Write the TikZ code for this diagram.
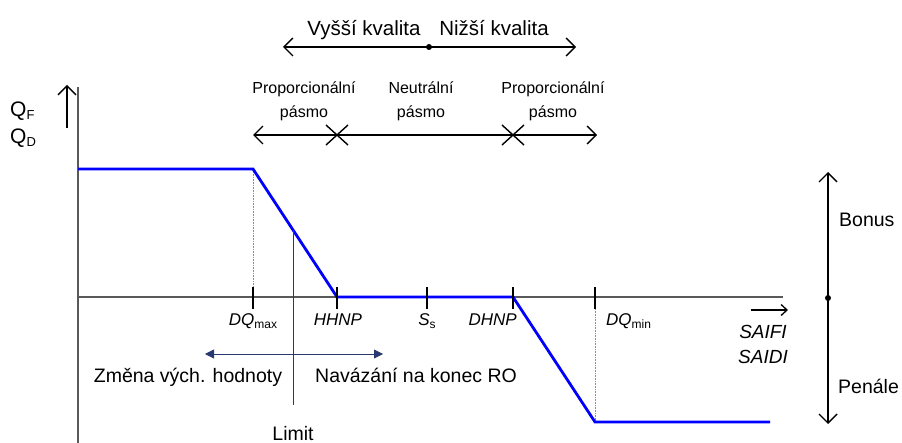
\documentclass[tikz,border=0pt]{standalone}
\usepackage{fontspec}
\setmainfont{Liberation Sans}
\usetikzlibrary{arrows.meta}

\definecolor{navy}{RGB}{40,56,112}
\newcommand{\fs}[1]{\fontsize{#1}{#1}\selectfont}
\newcommand{\lowsub}[1]{\raisebox{-3pt}{\upshape\fs{12}#1}}

\tikzset{
	axis/.style={draw=black!65,line width=1.1pt},
	curve/.style={draw=blue,line width=2.8pt,line join=miter},
	barb/.style={-{Straight Barb[length=9pt,width=18pt]},line width=1.4pt},
	smallbarb/.style={-{Straight Barb[length=6pt,width=11pt]},line width=1.3pt},
	tickmark/.style={line width=1.5pt},
	guide/.style={draw=black!45,line width=0.6pt,densely dotted},
	navyline/.style={draw=navy,line width=0.8pt},
	lbl/.style={inner sep=0pt,anchor=base,font=\fs{19.5}},
	band/.style={inner sep=0pt,anchor=base,font=\fs{16}},
	ticklbl/.style={inner sep=0pt,anchor=base,font=\fs{17}\itshape},
}

\begin{document}
\begin{tikzpicture}[x=1pt,y=-1pt]
	\useasboundingbox (0,0) rectangle (902,443);

	% axes
	\coordinate (ytop) at (78,87);
	\coordinate (ybot) at (78,443);
	\coordinate (x0) at (78,297);
	\coordinate (xend) at (783,297);
	\draw[axis] (ytop) -- (ybot);
	\draw[axis] (x0) -- (xend);

	% quality curve
	\coordinate (c1) at (78,169);
	\coordinate (c2) at (253,169);
	\coordinate (c3) at (337,297);
	\coordinate (c4) at (513,297);
	\coordinate (c5) at (595,422);
	\coordinate (c6) at (770,422);
	\draw[guide] (c2) -- (253,287);
	\draw[guide] (595,309) -- (c5);
	\draw[curve] (c1) -- (c2) -- (c3) -- (c4) -- (c5) -- (c6);

	% ticks
	\foreach \tx in {253,337,427,513,595}
		\draw[tickmark] (\tx,287) -- (\tx,309);

	\node[ticklbl] (dqmax) at (253,326) {DQ\lowsub{max}};
	\node[ticklbl] (hhnp) at (338,326) {HHNP};
	\node[ticklbl] (ss) at (427,326) {S\lowsub{s}};
	\node[ticklbl,anchor=base east] (dhnp) at (517,326) {DHNP};
	\node[ticklbl,anchor=base west] (dqmin) at (606,326) {DQ\lowsub{min}};

	% y label
	\node[lbl,anchor=base west,font=\fs{21}] (qf) at (10,117) {Q\raisebox{-3pt}{\fs{13}F}};
	\node[lbl,anchor=base west,font=\fs{21}] (qd) at (10,144) {Q\raisebox{-3pt}{\fs{13}D}};
	\coordinate (qa1) at (67,128);
	\coordinate (qa2) at (67,85);
	\draw[barb] (qa1) -- (qa2);

	% x label
	\coordinate (sa1) at (751,310);
	\coordinate (sa2) at (788,310);
	\draw[smallbarb] (sa1) -- (sa2);
	\node[ticklbl,font=\fs{19}\itshape] (saifi) at (763,339) {SAIFI};
	\node[ticklbl,font=\fs{19}\itshape] (saidi) at (763,364) {SAIDI};

	% quality arrow
	\coordinate (qmid) at (429,47);
	\coordinate (qleft) at (283,47);
	\coordinate (qright) at (576,47);
	\draw[barb] (qmid) -- (qleft);
	\draw[barb] (qmid) -- (qright);
	\fill (qmid) circle (3pt);
	\node[lbl,font=\fs{20.5}] (vyssi) at (364,36) {Vyšší kvalita};
	\node[lbl,font=\fs{20.5}] (nizsi) at (494,36) {Nižší kvalita};

	% bands
	\coordinate (b1) at (337,135);
	\coordinate (b2) at (513,135);
	\coordinate (bleft) at (253,135);
	\coordinate (bright) at (597,135);
	\draw[line width=1.4pt] (b1) -- (b2);
	\draw[barb] (b1) -- (bleft);
	\draw[barb] (b2) -- (bright);
	\foreach \bx in {337,513} {
		\draw[line width=1.4pt] (\bx-11,125) -- (\bx+11,145);
		\draw[line width=1.4pt] (\bx-11,145) -- (\bx+11,125);
	}
	\node[band] (p1a) at (304,94) {Proporcionální};
	\node[band] (p1b) at (304,118) {pásmo};
	\node[band] (n1a) at (421,94) {Neutrální};
	\node[band] (n1b) at (421,118) {pásmo};
	\node[band] (p2a) at (553,94) {Proporcionální};
	\node[band] (p2b) at (553,118) {pásmo};

	% limit
	\coordinate (lim1) at (293,230);
	\coordinate (lim2) at (293,405);
	\coordinate (la) at (205,354);
	\coordinate (lb) at (383,354);
	\draw[navyline] (lim1) -- (lim2);
	\draw[navyline,{Triangle[length=9pt,width=9pt]}-{Triangle[length=9pt,width=9pt]}] (la) -- (lb);
	\node[lbl] (zmena) at (188,383) {Změna vých. hodnoty};
	\node[lbl,anchor=base west] (navaz) at (315,383) {Navázání na konec RO};
	\node[lbl] (limit) at (293,440) {Limit};

	% bonus / penalty
	\coordinate (bp) at (828,298);
	\coordinate (bup) at (828,172);
	\coordinate (bdown) at (828,424);
	\draw[barb] (bp) -- (bup);
	\draw[barb] (bp) -- (bdown);
	\fill (bp) circle (3pt);
	\node[lbl,anchor=base west] (bonus) at (839,227) {Bonus};
	\node[lbl,anchor=base west] (penale) at (838,393) {Penále};
\end{tikzpicture}
\end{document}
